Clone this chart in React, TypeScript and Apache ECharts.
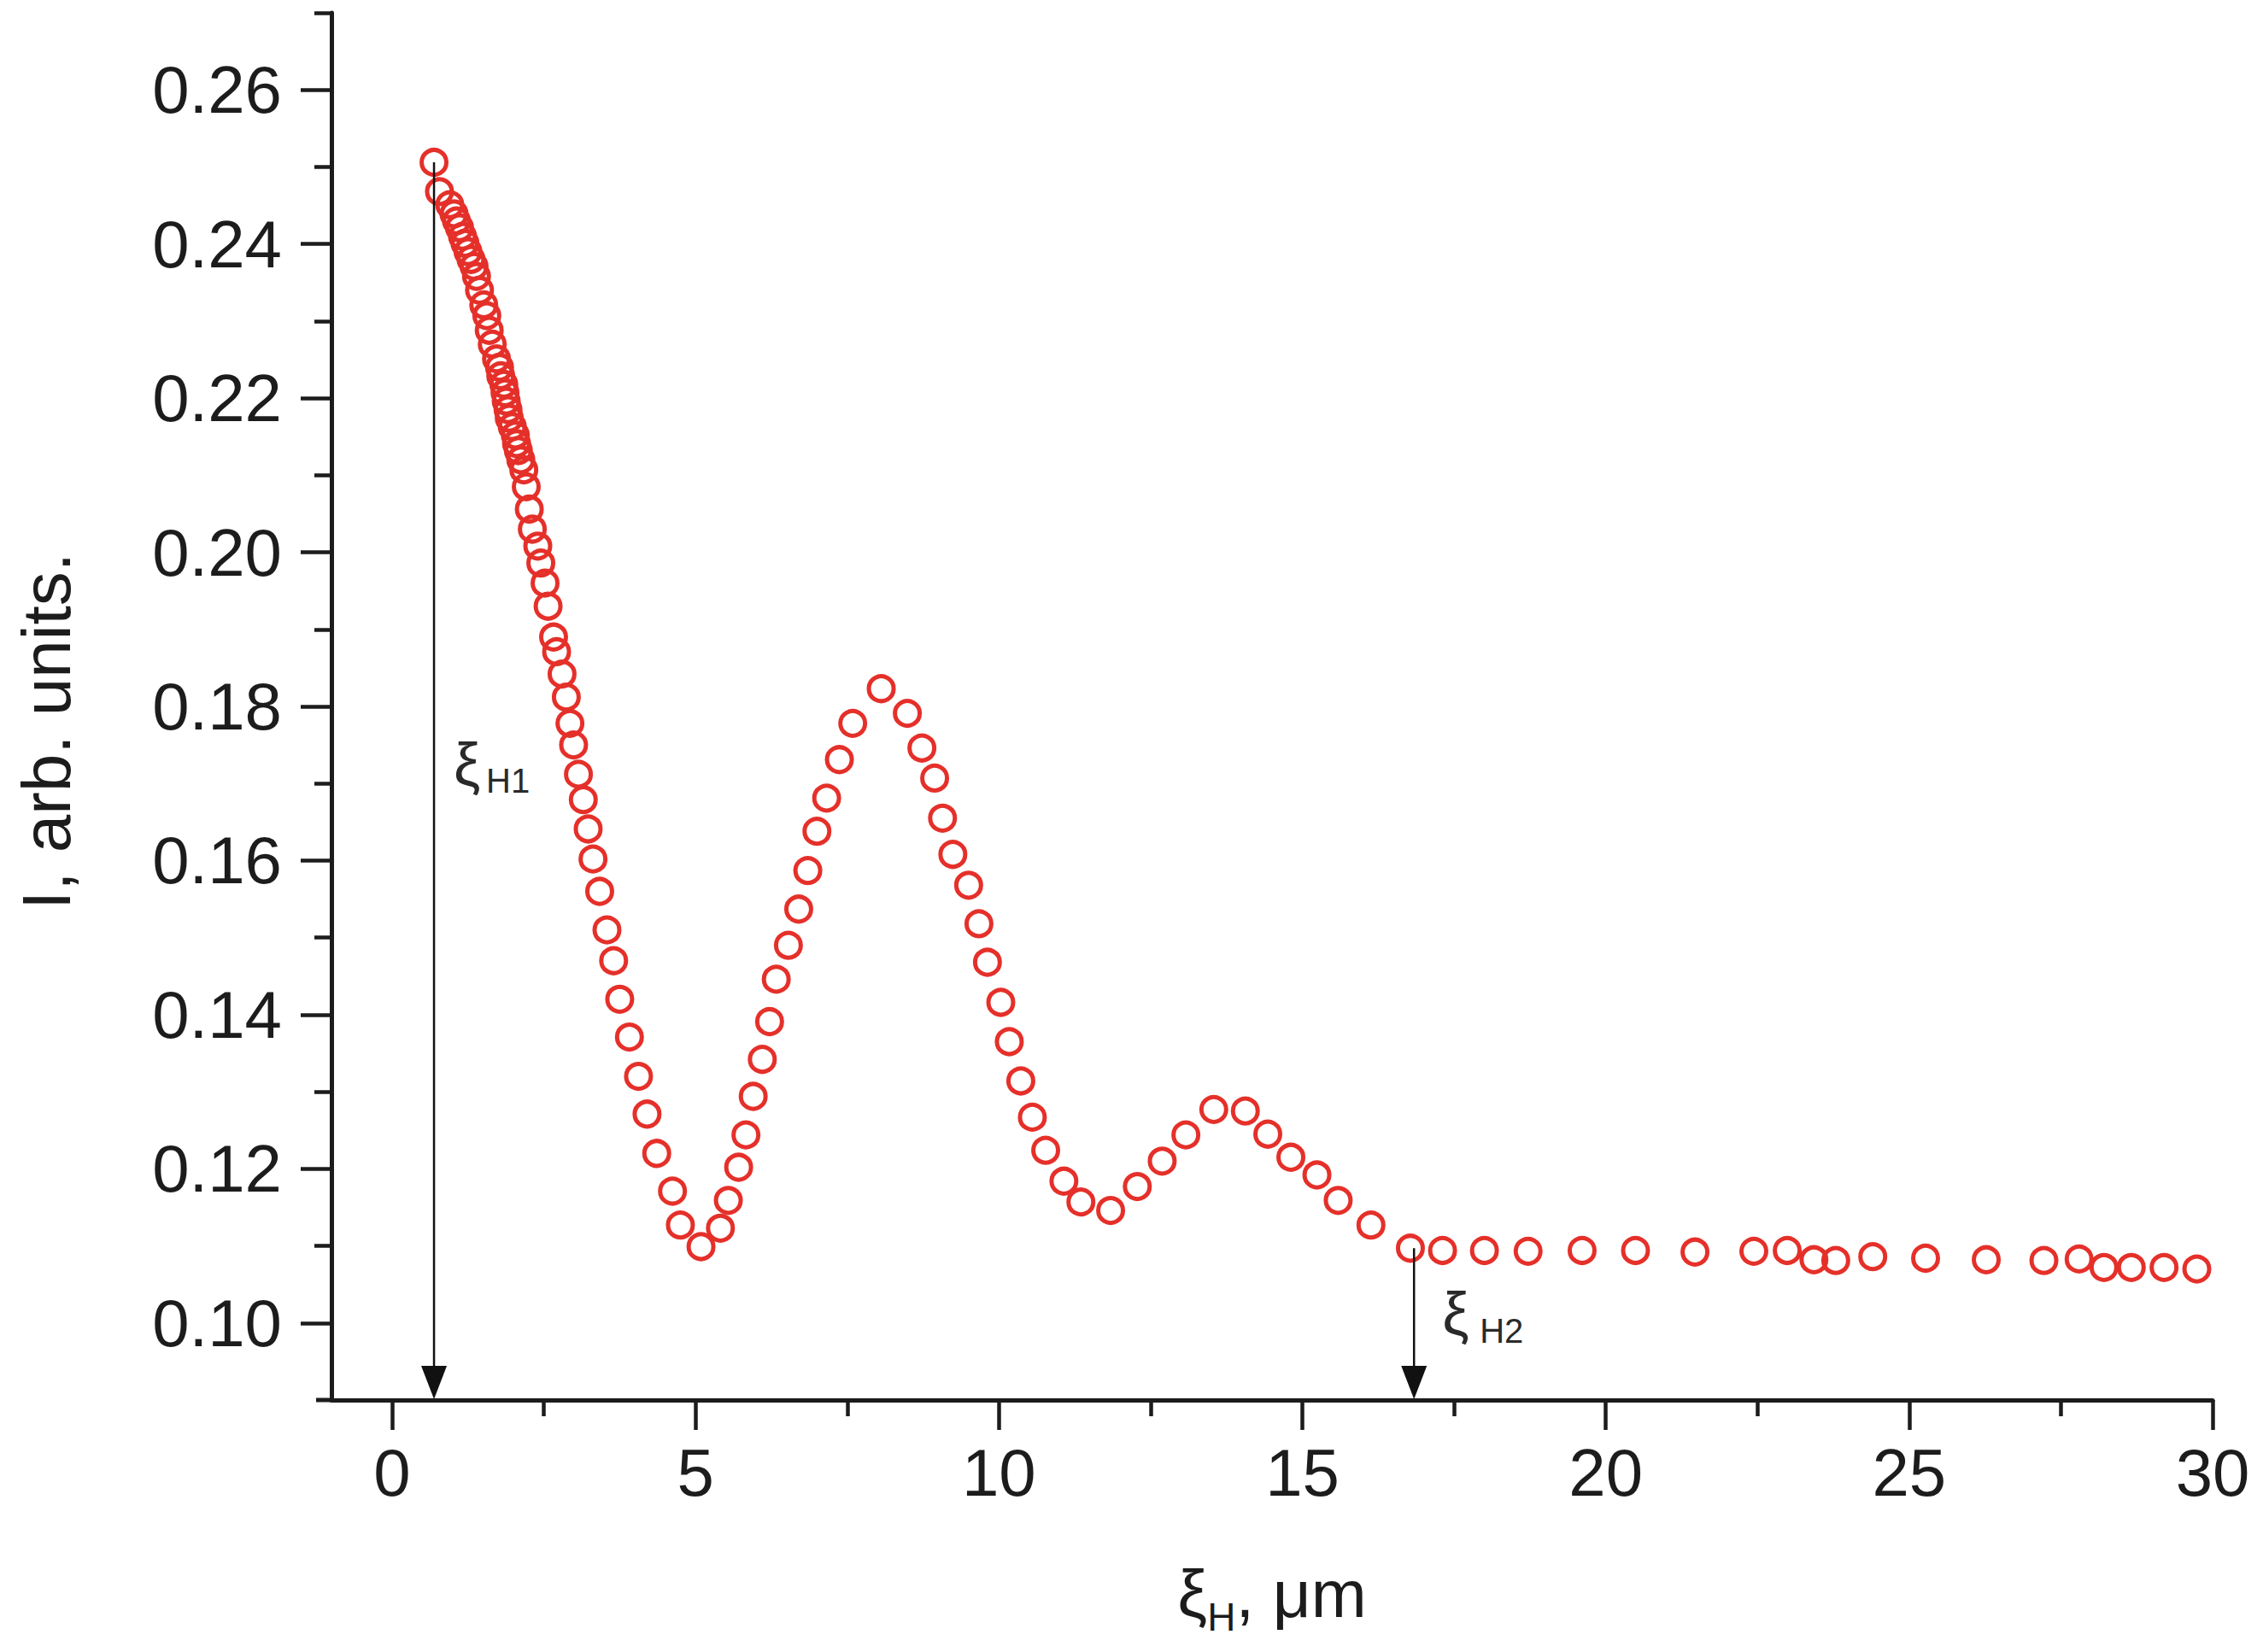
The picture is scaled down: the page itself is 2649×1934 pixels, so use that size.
import React, { useEffect, useRef } from "react";
import * as echarts from "echarts";

// ξH (μm)
const xi = [
  0.69, 0.78, 0.95, 1.02, 1.06, 1.11, 1.16, 1.2, 1.25, 1.3, 1.35, 1.39, 1.44, 1.51, 1.56, 1.6, 1.65, 1.72,
  1.77, 1.79, 1.84, 1.86, 1.88, 1.91, 1.93, 1.98, 2.03, 2.05, 2.08, 2.12, 2.17, 2.21, 2.26, 2.31, 2.4, 2.45,
  2.52, 2.57, 2.66, 2.71, 2.8, 2.87, 2.93, 2.99, 3.07, 3.15, 3.23, 3.31, 3.42, 3.54, 3.65, 3.75, 3.91, 4.06,
  4.2, 4.36, 4.62, 4.75, 5.09, 5.41, 5.54, 5.71, 5.83, 5.95, 6.1, 6.22, 6.33, 6.53, 6.7, 6.85, 7.0, 7.16,
  7.37, 7.59, 8.06, 8.49, 8.73, 8.94, 9.07, 9.24, 9.5, 9.67, 9.81, 10.03, 10.17, 10.36, 10.55, 10.77, 11.07,
  11.35, 11.84, 12.28, 12.69, 13.08, 13.54, 14.06, 14.43, 14.81, 15.24, 15.59, 16.13, 16.78, 17.31, 18.0,
  18.72, 19.61, 20.49, 21.47, 22.44, 22.99, 23.43, 23.79, 24.4, 25.27, 26.27, 27.22, 27.8, 28.21, 28.66,
  29.2, 29.74,
];

// I (arb. units)
const intensity = [
  0.2506, 0.2468, 0.2451, 0.2439, 0.243, 0.2421, 0.241, 0.2401, 0.239, 0.238, 0.2371, 0.2358, 0.234, 0.2321,
  0.2307, 0.2288, 0.227, 0.2251, 0.224, 0.2229, 0.2218, 0.2207, 0.2196, 0.2185, 0.2174, 0.2163, 0.2152,
  0.2141, 0.2132, 0.212, 0.2107, 0.2085, 0.2056, 0.203, 0.2008, 0.1986, 0.196, 0.193, 0.189, 0.1871, 0.1842,
  0.1812, 0.1778, 0.175, 0.1712, 0.1679, 0.1641, 0.1602, 0.156, 0.151, 0.147, 0.142, 0.1371, 0.132, 0.1271,
  0.122, 0.1171, 0.1127, 0.1099, 0.1123, 0.1159, 0.1202, 0.1244, 0.1294, 0.1342, 0.1391, 0.1446, 0.149,
  0.1537, 0.1587, 0.1638, 0.1681, 0.1731, 0.1778, 0.1823, 0.1791, 0.1746, 0.1707, 0.1655, 0.1608, 0.1568,
  0.1518, 0.1468, 0.1416, 0.1365, 0.1314, 0.1267, 0.1224, 0.1184, 0.1157, 0.1146, 0.1177, 0.121, 0.1244,
  0.1277, 0.1275, 0.1245, 0.1215, 0.1192, 0.1159, 0.1127, 0.1097, 0.1094, 0.1094, 0.1093, 0.1094, 0.1094,
  0.1092, 0.1093, 0.1094, 0.1082, 0.1081, 0.1086, 0.1084, 0.1082, 0.1081, 0.1083, 0.1072, 0.1072, 0.1072,
  0.107,
];

// tick positions
const xMajorTicks = [0, 5, 10, 15, 20, 25, 30];
const xMinorTicks = [2.5, 7.5, 12.5, 17.5, 22.5, 27.5];
const yMajorTicks = [0.1, 0.12, 0.14, 0.16, 0.18, 0.2, 0.22, 0.24, 0.26];
const yMinorTicks = [0.11, 0.13, 0.15, 0.17, 0.19, 0.21, 0.23, 0.25, 0.27];

// annotation arrows
const arrowX = [0.69, 16.84];
const arrowTop = [0.2506, 0.1097];
const arrowSub = ["H1", "H2"];

const X_MIN = -1;
const X_MAX = 30;
const Y_MIN = 0.09;
const Y_MAX = 0.27;

const FONT = "'Liberation Sans', Arial, Helvetica, sans-serif";
const INK = "#1c1c1c";
const RED = "#e5302a";

export default function App() {
  const ref = useRef<HTMLDivElement>(null);

  useEffect(() => {
    if (!ref.current) return;
    const chart = echarts.init(ref.current, undefined, { renderer: "svg" });

    const data = xi.map((x, i) => [x, intensity[i]]);

    const option: any = {
      animation: false,
      backgroundColor: "#ffffff",
      textStyle: { fontFamily: FONT },
      grid: { left: 388, right: 59, top: 15, bottom: 295, containLabel: false },
      xAxis: [
        {
          type: "value",
          position: "bottom",
          min: X_MIN,
          max: X_MAX,
          axisLine: { show: true, onZero: false, lineStyle: { color: INK, width: 5 } },
          axisTick: { show: true, inside: false, length: 35, customValues: xMajorTicks, lineStyle: { color: INK, width: 4.5 } },
          axisLabel: {
            show: true,
            customValues: xMajorTicks,
            margin: 46,
            fontSize: 78,
            color: INK,
            fontFamily: FONT,
            formatter: (v: number) => String(v),
          },
          splitLine: { show: false },
          name: "{a|ξ}{s|H}{a|, μm}",
          nameLocation: "middle",
          nameGap: 177,
          nameTextStyle: {
            rich: {
              a: { fontSize: 78, lineHeight: 100, color: INK, fontFamily: FONT },
              s: { fontSize: 46, lineHeight: 20, verticalAlign: "bottom", color: INK, fontFamily: FONT },
            },
          },
        },
        {
          type: "value",
          position: "bottom",
          min: X_MIN,
          max: X_MAX,
          axisLine: { show: false, onZero: false },
          axisTick: { show: true, inside: false, length: 19, customValues: xMinorTicks, lineStyle: { color: INK, width: 4.5 } },
          axisLabel: { show: false },
          splitLine: { show: false },
        },
      ],
      yAxis: [
        {
          type: "value",
          position: "left",
          min: Y_MIN,
          max: Y_MAX,
          axisLine: { show: true, onZero: false, lineStyle: { color: INK, width: 5 } },
          axisTick: { show: true, inside: false, length: 36, customValues: yMajorTicks, lineStyle: { color: INK, width: 4.5 } },
          axisLabel: {
            show: true,
            customValues: yMajorTicks,
            margin: 58,
            fontSize: 78,
            color: INK,
            fontFamily: FONT,
            formatter: (v: number) => v.toFixed(2),
          },
          splitLine: { show: false },
          name: "I, arb. units.",
          nameLocation: "middle",
          nameRotate: 90,
          nameGap: 294,
          nameTextStyle: { fontSize: 80, color: INK, fontFamily: FONT, padding: [0, 58, 0, 0] },
        },
        {
          type: "value",
          position: "left",
          min: Y_MIN,
          max: Y_MAX,
          axisLine: { show: false, onZero: false },
          axisTick: { show: true, inside: false, length: 20, customValues: yMinorTicks, lineStyle: { color: INK, width: 4.5 } },
          axisLabel: { show: false },
          splitLine: { show: false },
        },
      ],
      series: [
        {
          type: "scatter",
          xAxisIndex: 0,
          yAxisIndex: 0,
          data,
          symbol: "circle",
          symbolSize: 29,
          itemStyle: { color: "rgba(0,0,0,0)", borderColor: RED, borderWidth: 5, opacity: 1 },
          emphasis: { disabled: true },
          z: 3,
        },
      ],
    };

    chart.setOption(option);

    const toPx = (p: number[]) => chart.convertToPixel({ xAxisIndex: 0, yAxisIndex: 0 }, p) as number[];
    const graphics: any[] = [];

    // small extension of the x axis line to the left of the y axis
    const origin = toPx([X_MIN, Y_MIN]);
    graphics.push({
      type: "rect",
      shape: { x: origin[0] - 18, y: origin[1] - 2.5, width: 20, height: 5 },
      style: { fill: INK },
      z: 10,
    });

    arrowX.forEach((ax, i) => {
      const top = toPx([ax, arrowTop[i]]);
      const bot = toPx([ax, Y_MIN]);
      const headH = 40;
      const headW = 30;
      graphics.push({
        type: "line",
        shape: { x1: top[0], y1: top[1], x2: bot[0], y2: bot[1] - headH + 2 },
        style: { stroke: "#111", lineWidth: 2.5 },
        z: 5,
      });
      graphics.push({
        type: "polygon",
        shape: {
          points: [
            [bot[0] - headW / 2, bot[1] - headH],
            [bot[0] + headW / 2, bot[1] - headH],
            [bot[0], bot[1] - 1],
          ],
        },
        style: { fill: "#111" },
        z: 5,
      });
    });

    // labels ξH1, ξH2
    const a1 = toPx([arrowX[0], Y_MIN]);
    const a2 = toPx([arrowX[1], Y_MIN]);
    const labelPos = [
      { gx: a1[0] + 23, gy: 895, sx: a1[0] + 61, sy: 914 },
      { gx: a2[0] + 33, gy: 1538, sx: a2[0] + 77, sy: 1558 },
    ];
    labelPos.forEach((lp, i) => {
      graphics.push({
        type: "text",
        x: lp.gx,
        y: lp.gy,
        style: { text: "ξ", fontSize: 70, fontFamily: FONT, fill: "#2a2a2a", align: "left", verticalAlign: "middle" },
        z: 6,
      });
      graphics.push({
        type: "text",
        x: lp.sx,
        y: lp.sy,
        style: { text: arrowSub[i], fontSize: 40, fontFamily: FONT, fill: "#2a2a2a", align: "left", verticalAlign: "middle" },
        z: 6,
      });
    });

    chart.setOption({ graphic: graphics });

    return () => chart.dispose();
  }, []);

  return (
    <div
      ref={ref}
      style={{ position: "fixed", left: 0, top: 0, width: 2649, height: 1934, background: "#fff" }}
    />
  );
}
